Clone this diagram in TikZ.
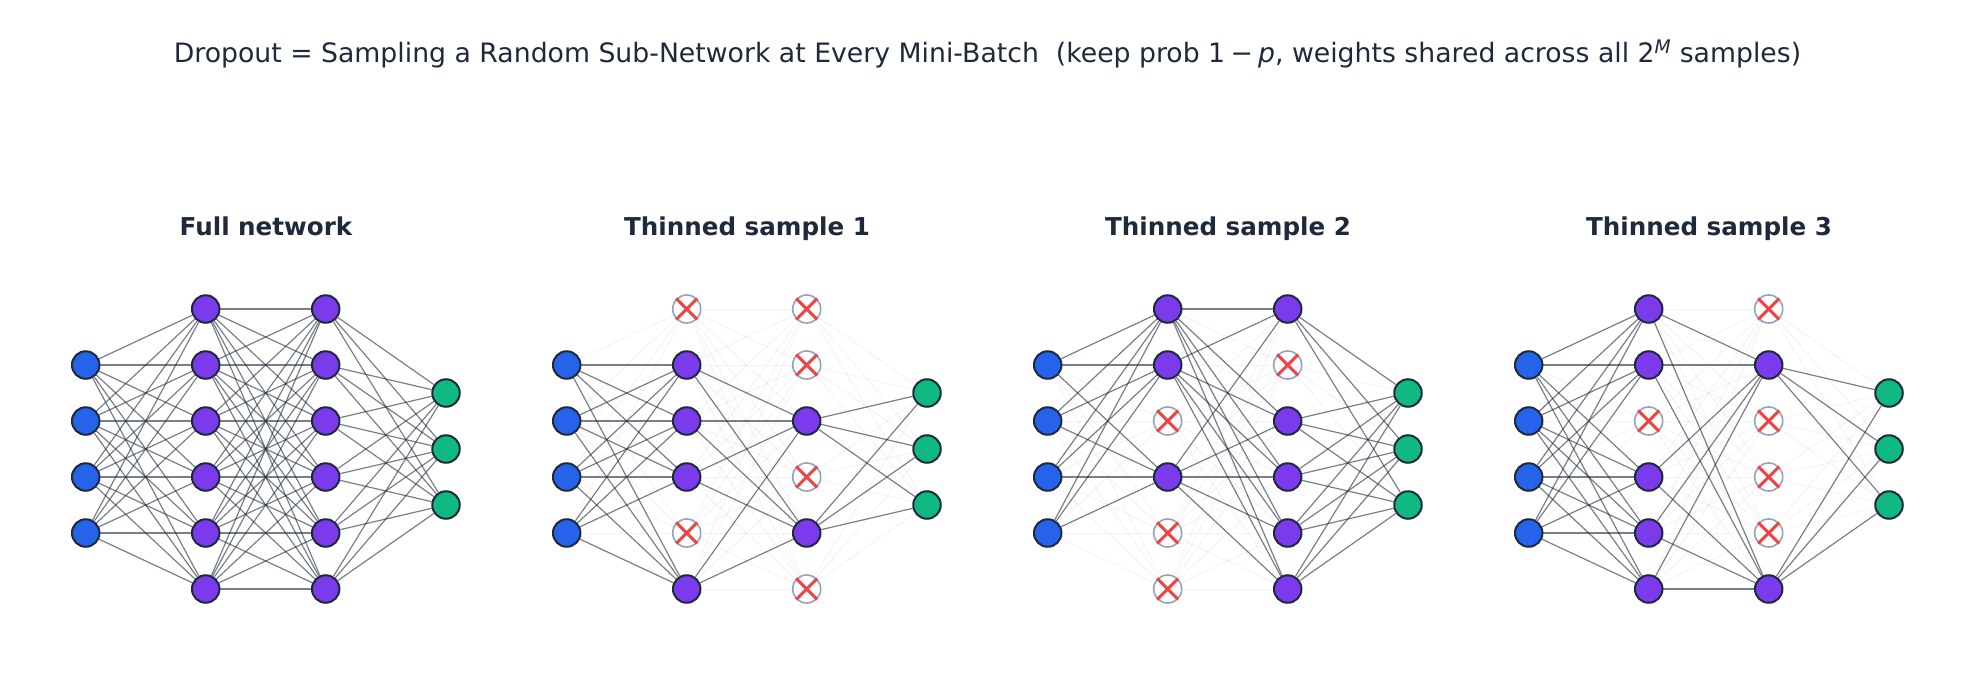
\documentclass[tikz,border=0pt]{standalone}
\usepackage{fontspec}
\setmainfont{DejaVu Sans}
\pgfdeclarelayer{bg}
\pgfdeclarelayer{mid}
\pgfsetlayers{bg,mid,main}
\definecolor{inblue}{HTML}{2563EB}
\definecolor{hidpurple}{HTML}{7C3AED}
\definecolor{outgreen}{HTML}{10B981}
\definecolor{ink}{HTML}{1E293B}
\definecolor{dropgray}{HTML}{94A3B8}
\definecolor{crossred}{HTML}{EF4444}
\begin{document}
\begin{tikzpicture}[x=1pt,y=-1pt,
  neuron/.style={circle,draw=ink,line width=2pt,minimum size=27.5pt,inner sep=0pt},
  inneuron/.style={neuron,fill=inblue},
  hidneuron/.style={neuron,fill=hidpurple},
  outneuron/.style={neuron,fill=outgreen},
  dropneuron/.style={circle,draw=dropgray,line width=1.6pt,fill=white,minimum size=28pt,inner sep=0pt},
  crossline/.style={draw=crossred,line width=3pt},
  wire/.style={draw=ink,opacity=0.6,line width=1.2pt},
  faintwire/.style={draw=ink,opacity=0.05,line width=1pt},
  paneltitle/.style={font=\bfseries\fontsize{24.6}{28}\selectfont,text=ink,anchor=base,inner sep=0pt},
  maintitle/.style={font=\fontsize{26.7}{30}\selectfont,text=ink}]
\useasboundingbox (0,0) rectangle (1975,695);
\node[maintitle] (title) at (987.5,54) {Dropout = Sampling a Random Sub-Network at Every Mini-Batch\ \ (keep prob 1\hspace{0.2em}−\hspace{0.2em}\textit{p}, weights shared across all 2\textsuperscript{\textit{M}} samples)};
\foreach \k/\ka/\kb/\ttl in {0/{1,1,1,1,1,1}/{1,1,1,1,1,1}/Full network,
                         1/{0,1,1,1,0,1}/{0,0,1,0,1,0}/Thinned sample 1,
                         2/{1,1,0,1,0,0}/{1,0,1,1,1,1}/Thinned sample 2,
                         3/{1,1,0,1,1,1}/{0,1,0,0,0,1}/Thinned sample 3}{
  \pgfmathsetmacro\px{481*\k}
  \node[paneltitle] (t\k) at (\px+266,235.5) {\ttl};
  % input layer
  \foreach \j in {0,...,3}
    \node[inneuron] (p\k i\j) at (\px+85.7,365+56*\j) {};
  % output layer
  \foreach \j in {0,...,2}
    \node[outneuron] (p\k o\j) at (\px+446,393+56*\j) {};
  % hidden layer 1
  \foreach \f [count=\j from 0] in \ka {
    \expandafter\xdef\csname fa\k-\j\endcsname{\f}
    \ifnum\f=1
      \node[hidneuron] (p\k a\j) at (\px+205.7,309+56*\j) {};
    \else
      \node[dropneuron] (p\k a\j) at (\px+205.7,309+56*\j) {};
      \draw[crossline] ([shift={(-10.5pt,-10.5pt)}]p\k a\j.center) -- ([shift={(10.5pt,10.5pt)}]p\k a\j.center);
      \draw[crossline] ([shift={(-10.5pt,10.5pt)}]p\k a\j.center) -- ([shift={(10.5pt,-10.5pt)}]p\k a\j.center);
    \fi
  }
  % hidden layer 2
  \foreach \f [count=\j from 0] in \kb {
    \expandafter\xdef\csname fb\k-\j\endcsname{\f}
    \ifnum\f=1
      \node[hidneuron] (p\k b\j) at (\px+325.7,309+56*\j) {};
    \else
      \node[dropneuron] (p\k b\j) at (\px+325.7,309+56*\j) {};
      \draw[crossline] ([shift={(-10.5pt,-10.5pt)}]p\k b\j.center) -- ([shift={(10.5pt,10.5pt)}]p\k b\j.center);
      \draw[crossline] ([shift={(-10.5pt,10.5pt)}]p\k b\j.center) -- ([shift={(10.5pt,-10.5pt)}]p\k b\j.center);
    \fi
  }
  % input -> hidden 1
  \foreach \i in {0,...,3}
    \foreach \j in {0,...,5} {
      \ifnum\csname fa\k-\j\endcsname=1
        \begin{pgfonlayer}{mid}\draw[wire] (p\k i\i) -- (p\k a\j);\end{pgfonlayer}
      \else
        \begin{pgfonlayer}{bg}\draw[faintwire] (p\k i\i) -- (p\k a\j);\end{pgfonlayer}
      \fi
    }
  % hidden 1 -> hidden 2
  \foreach \i in {0,...,5}
    \foreach \j in {0,...,5} {
      \ifnum\numexpr\csname fa\k-\i\endcsname*\csname fb\k-\j\endcsname\relax=1
        \begin{pgfonlayer}{mid}\draw[wire] (p\k a\i) -- (p\k b\j);\end{pgfonlayer}
      \else
        \begin{pgfonlayer}{bg}\draw[faintwire] (p\k a\i) -- (p\k b\j);\end{pgfonlayer}
      \fi
    }
  % hidden 2 -> output
  \foreach \i in {0,...,5}
    \foreach \j in {0,...,2} {
      \ifnum\csname fb\k-\i\endcsname=1
        \begin{pgfonlayer}{mid}\draw[wire] (p\k b\i) -- (p\k o\j);\end{pgfonlayer}
      \else
        \begin{pgfonlayer}{bg}\draw[faintwire] (p\k b\i) -- (p\k o\j);\end{pgfonlayer}
      \fi
    }
}
\end{tikzpicture}
\end{document}
